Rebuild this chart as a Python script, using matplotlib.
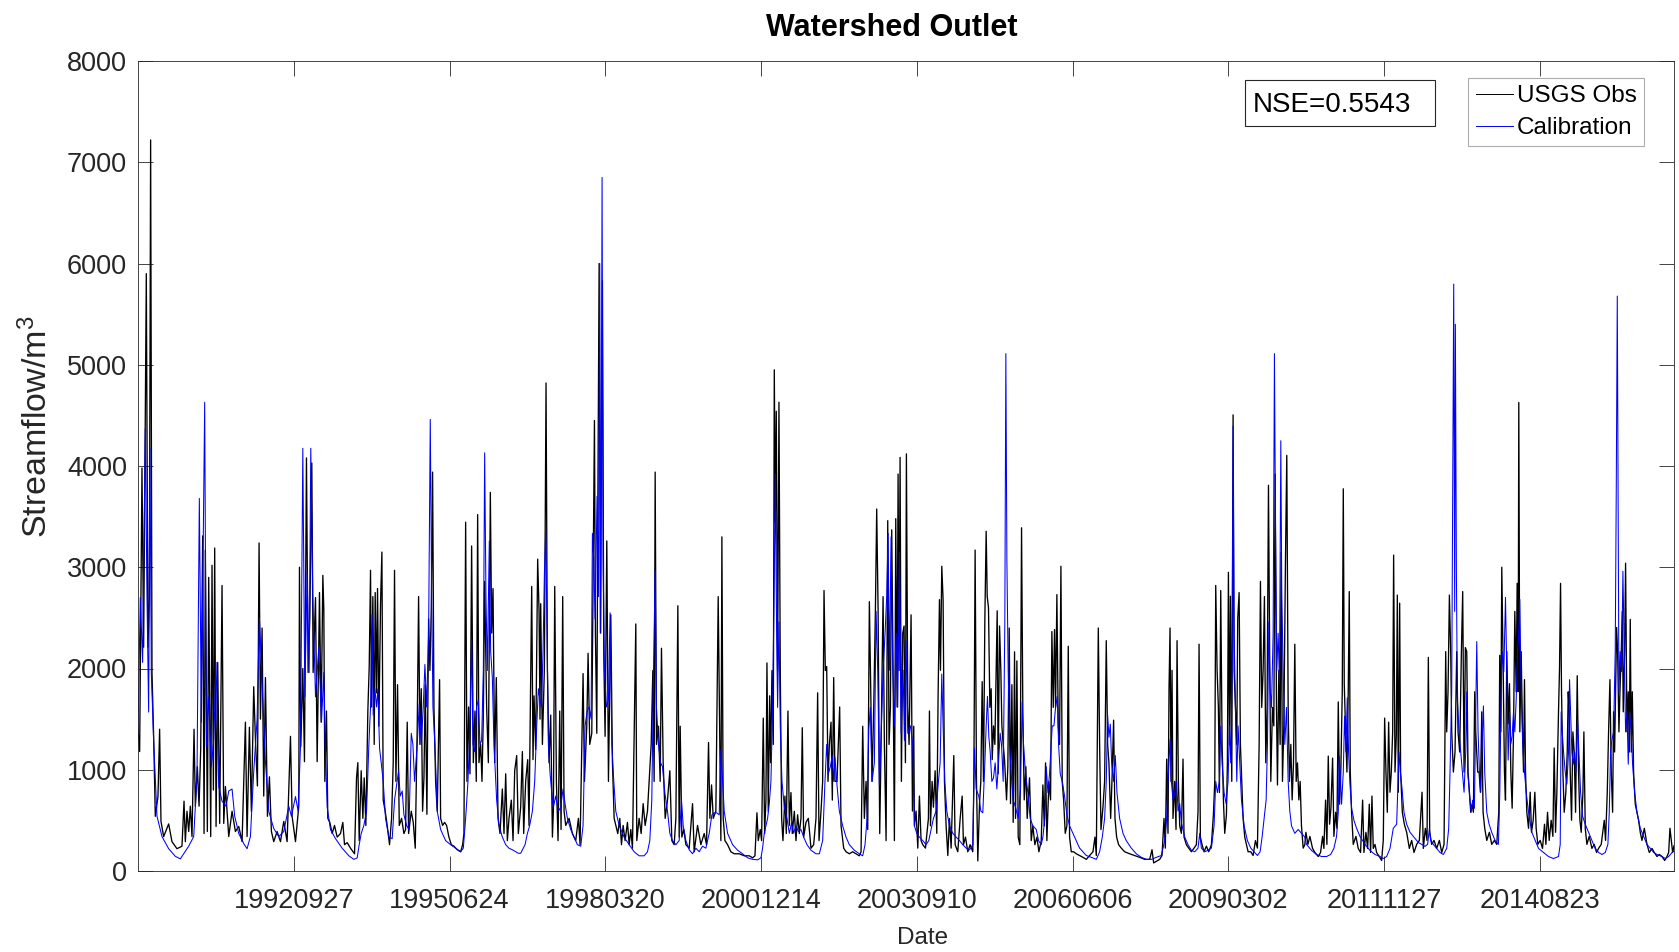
import numpy as np
import pandas as pd
import matplotlib
matplotlib.use("Agg")
import matplotlib.pyplot as plt
from matplotlib.patches import Rectangle

plt.rcParams['font.family'] = ['Liberation Sans', 'DejaVu Sans']
plt.rcParams['mathtext.fontset'] = 'custom'
plt.rcParams['mathtext.rm'] = 'Liberation Sans'
plt.rcParams['mathtext.it'] = 'Liberation Sans:italic'

# ---------------- data (decimal year, streamflow) ----------------
title = "Watershed Outlet"
x_label = "Date"
y_label = "Streamflow/m$^3$"
series_names = ["USGS Obs", "Calibration"]
nse_text = "NSE=0.5543"
date_ticks = ["19920927", "19950624", "19980320", "20001214", "20030910",
              "20060606", "20090302", "20111127", "20140823"]
y_ticks = [0, 1000, 2000, 3000, 4000, 5000, 6000, 7000, 8000]

usgs_obs = [
    (1990.000, 1400), (1990.029, 1180), (1990.070, 3980), (1990.099, 2210), (1990.146, 5900),
    (1990.175, 2210), (1990.199, 2700), (1990.222, 7220), (1990.246, 1960), (1990.275, 1330),
    (1990.304, 540), (1990.351, 735), (1990.380, 1400), (1990.404, 490), (1990.451, 340),
    (1990.539, 465), (1990.597, 290), (1990.685, 220), (1990.773, 245), (1990.809, 690),
    (1990.832, 290), (1990.861, 590), (1990.891, 390), (1990.920, 640), (1990.949, 340),
    (1990.985, 1400), (1991.008, 640), (1991.043, 1030), (1991.073, 640), (1991.102, 1200),
    (1991.137, 3310), (1991.161, 370), (1991.184, 3170), (1991.219, 390), (1991.243, 2900),
    (1991.278, 340), (1991.301, 3020), (1991.325, 800), (1991.348, 3190), (1991.372, 440),
    (1991.401, 2060), (1991.436, 470), (1991.477, 2820), (1991.507, 470), (1991.536, 835),
    (1991.595, 340), (1991.653, 590), (1991.712, 390), (1991.771, 440), (1991.829, 290),
    (1991.888, 1470), (1991.917, 340), (1991.958, 1420), (1991.993, 590), (1992.034, 1820),
    (1992.064, 1300), (1992.099, 840), (1992.128, 3240), (1992.152, 1500), (1992.181, 2400),
    (1992.210, 740), (1992.240, 1910), (1992.275, 540), (1992.310, 930), (1992.345, 390),
    (1992.386, 290), (1992.445, 390), (1992.504, 290), (1992.562, 490), (1992.621, 290),
    (1992.680, 1330), (1992.709, 540), (1992.768, 290), (1992.826, 640), (1992.838, 3000),
    (1992.861, 1230), (1992.897, 2000), (1992.926, 1080), (1992.961, 4080), (1992.990, 1960),
    (1993.020, 2500), (1993.055, 4030), (1993.078, 1960), (1993.120, 2700), (1993.149, 1080),
    (1993.190, 2750), (1993.219, 1470), (1993.249, 2920), (1993.266, 2585), (1993.284, 885),
    (1993.313, 1580), (1993.336, 520), (1993.372, 480), (1993.413, 370), (1993.454, 450),
    (1993.501, 335), (1993.559, 370), (1993.600, 480), (1993.630, 260), (1993.677, 280),
    (1993.735, 225), (1993.806, 170), (1993.841, 920), (1993.864, 1070), (1993.888, 300),
    (1993.923, 990), (1993.952, 520), (1993.976, 920), (1994.005, 450), (1994.040, 1580),
    (1994.064, 2020), (1994.087, 2970), (1994.105, 1620), (1994.128, 2710), (1994.152, 1250),
    (1994.169, 2750), (1994.193, 1760), (1994.210, 2790), (1994.234, 1430), (1994.263, 2640),
    (1994.287, 3150), (1994.310, 700), (1994.345, 590), (1994.380, 450), (1994.421, 260),
    (1994.457, 520), (1994.486, 1070), (1994.509, 2970), (1994.533, 885), (1994.562, 1840),
    (1994.592, 450), (1994.633, 520), (1994.674, 370), (1994.703, 410), (1994.732, 1470),
    (1994.756, 370), (1994.803, 590), (1994.838, 480), (1994.873, 225), (1994.908, 1430),
    (1994.932, 2710), (1994.955, 1250), (1994.979, 1800), (1995.002, 590), (1995.026, 920),
    (1995.049, 1840), (1995.078, 560), (1995.108, 2490), (1995.131, 1980), (1995.155, 2600),
    (1995.178, 3940), (1995.202, 1620), (1995.231, 885), (1995.260, 590), (1995.301, 1890),
    (1995.319, 520), (1995.354, 450), (1995.389, 480), (1995.424, 450), (1995.465, 335),
    (1995.507, 260), (1995.553, 245), (1995.612, 210), (1995.671, 190), (1995.706, 260),
    (1995.729, 370), (1995.759, 3445), (1995.782, 885), (1995.811, 1620), (1995.835, 960),
    (1995.864, 3210), (1995.894, 1070), (1995.923, 1580), (1995.946, 885), (1995.970, 3520),
    (1995.993, 1070), (1996.023, 1250), (1996.046, 885), (1996.070, 1540), (1996.093, 2860),
    (1996.128, 1620), (1996.158, 1070), (1996.193, 3740), (1996.216, 2350), (1996.240, 2790),
    (1996.269, 1070), (1996.298, 1910), (1996.328, 520), (1996.363, 370), (1996.404, 810),
    (1996.433, 370), (1996.463, 960), (1996.492, 300), (1996.521, 520), (1996.562, 700),
    (1996.592, 300), (1996.621, 990), (1996.656, 1140), (1996.685, 370), (1996.726, 630),
    (1996.756, 1180), (1996.779, 370), (1996.814, 885), (1996.850, 1100), (1996.873, 450),
    (1996.920, 2810), (1996.943, 1100), (1996.961, 1730), (1996.990, 1200), (1997.025, 3080),
    (1997.049, 2570), (1997.066, 1500), (1997.078, 2640), (1997.108, 1250), (1997.143, 2000),
    (1997.172, 4820), (1997.196, 1980), (1997.225, 1070), (1997.254, 1540), (1997.284, 335),
    (1997.301, 590), (1997.325, 2810), (1997.354, 885), (1997.383, 300), (1997.413, 1580),
    (1997.436, 410), (1997.465, 2710), (1997.489, 590), (1997.518, 450), (1997.577, 520),
    (1997.635, 370), (1997.694, 300), (1997.741, 520), (1997.770, 260), (1997.823, 1950),
    (1997.847, 885), (1997.888, 1430), (1997.911, 2150), (1997.940, 1250), (1997.976, 1360),
    (1998.005, 3300), (1998.023, 4450), (1998.040, 2350), (1998.064, 1360), (1998.081, 3445),
    (1998.105, 6000), (1998.128, 2350), (1998.163, 5830), (1998.187, 2130), (1998.210, 1330),
    (1998.240, 3260), (1998.269, 885), (1998.310, 2530), (1998.339, 1070), (1998.369, 520),
    (1998.398, 450), (1998.433, 370), (1998.468, 520), (1998.498, 260), (1998.527, 450),
    (1998.562, 300), (1998.603, 480), (1998.633, 260), (1998.662, 410), (1998.691, 225),
    (1998.750, 2440), (1998.767, 300), (1998.808, 520), (1998.844, 370), (1998.879, 665),
    (1998.914, 450), (1998.955, 590), (1998.984, 885), (1999.020, 1250), (1999.049, 1980),
    (1999.072, 885), (1999.090, 3940), (1999.113, 1250), (1999.149, 1430), (1999.178, 885),
    (1999.201, 2200), (1999.231, 1070), (1999.266, 520), (1999.307, 700), (1999.348, 990),
    (1999.383, 300), (1999.424, 260), (1999.454, 520), (1999.489, 2620), (1999.512, 335),
    (1999.530, 1430), (1999.559, 335), (1999.594, 410), (1999.630, 260), (1999.688, 225),
    (1999.747, 665), (1999.776, 190), (1999.835, 450), (1999.893, 260), (1999.952, 370),
    (1999.993, 260), (2000.028, 1270), (2000.052, 520), (2000.081, 850), (2000.111, 520),
    (2000.157, 590), (2000.198, 2710), (2000.245, 300), (2000.263, 3300), (2000.286, 520),
    (2000.316, 300), (2000.363, 260), (2000.421, 190), (2000.480, 170), (2000.568, 170),
    (2000.656, 150), (2000.744, 150), (2000.803, 130), (2000.844, 150), (2000.879, 575),
    (2000.902, 300), (2000.937, 410), (2000.961, 300), (2000.990, 1510), (2001.014, 370),
    (2001.037, 700), (2001.055, 2055), (2001.078, 590), (2001.102, 1730), (2001.119, 1070),
    (2001.143, 1980), (2001.166, 1250), (2001.184, 4950), (2001.201, 3445), (2001.219, 4540),
    (2001.242, 1980), (2001.266, 4630), (2001.289, 1980), (2001.313, 520), (2001.336, 300),
    (2001.371, 740), (2001.395, 370), (2001.424, 1580), (2001.448, 450), (2001.477, 775),
    (2001.500, 370), (2001.536, 590), (2001.565, 300), (2001.594, 555), (2001.624, 370),
    (2001.653, 520), (2001.676, 1415), (2001.700, 335), (2001.741, 480), (2001.782, 520),
    (2001.829, 225), (2001.876, 260), (2001.917, 520), (2001.946, 1760), (2001.970, 300),
    (2002.005, 590), (2002.034, 885), (2002.058, 2770), (2002.081, 1980), (2002.105, 2020),
    (2002.128, 885), (2002.152, 1250), (2002.181, 1470), (2002.204, 700), (2002.228, 1910),
    (2002.251, 885), (2002.286, 885), (2002.333, 1620), (2002.357, 450), (2002.404, 225),
    (2002.445, 190), (2002.503, 170), (2002.562, 190), (2002.621, 170), (2002.679, 150),
    (2002.709, 190), (2002.738, 1430), (2002.767, 520), (2002.797, 885), (2002.826, 410),
    (2002.855, 2660), (2002.879, 1800), (2002.902, 885), (2002.932, 1620), (2002.961, 2570),
    (2002.984, 3575), (2003.008, 2600), (2003.037, 370), (2003.061, 1250), (2003.096, 2710),
    (2003.119, 1250), (2003.149, 300), (2003.178, 3460), (2003.201, 1250), (2003.225, 1620),
    (2003.248, 3370), (2003.272, 1980), (2003.295, 300), (2003.319, 3480), (2003.342, 1620),
    (2003.360, 3920), (2003.377, 1980), (2003.395, 4085), (2003.418, 885), (2003.442, 2350),
    (2003.465, 2420), (2003.489, 1070), (2003.506, 4120), (2003.530, 1620), (2003.553, 1250),
    (2003.588, 2530), (2003.612, 592), (2003.635, 1430), (2003.647, 446), (2003.676, 592),
    (2003.706, 226), (2003.735, 740), (2003.764, 300), (2003.794, 260), (2003.841, 226),
    (2003.893, 519), (2003.911, 1580), (2003.929, 446), (2003.958, 885), (2003.981, 630),
    (2004.011, 990), (2004.040, 372), (2004.063, 1730), (2004.087, 2680), (2004.105, 1982),
    (2004.128, 3010), (2004.151, 2680), (2004.175, 885), (2004.204, 446), (2004.234, 153),
    (2004.263, 519), (2004.292, 226), (2004.339, 1140), (2004.363, 260), (2004.409, 190),
    (2004.451, 519), (2004.486, 740), (2004.509, 260), (2004.544, 335), (2004.585, 190),
    (2004.626, 260), (2004.673, 190), (2004.691, 850), (2004.714, 3170), (2004.738, 885),
    (2004.761, 100), (2004.791, 665), (2004.814, 885), (2004.838, 1870), (2004.861, 885),
    (2004.885, 2490), (2004.908, 3355), (2004.926, 2714), (2004.949, 2600), (2004.973, 1616),
    (2004.996, 1800), (2005.014, 1100), (2005.037, 1433), (2005.061, 1250), (2005.084, 1982),
    (2005.102, 2570), (2005.119, 960), (2005.143, 2420), (2005.166, 1982), (2005.184, 1433),
    (2005.207, 1250), (2005.231, 1100), (2005.266, 702), (2005.289, 1030), (2005.313, 2400),
    (2005.336, 665), (2005.360, 1840), (2005.383, 480), (2005.407, 2165), (2005.424, 519),
    (2005.448, 2075), (2005.471, 335), (2005.500, 260), (2005.530, 3390), (2005.553, 1540),
    (2005.577, 702), (2005.606, 1030), (2005.629, 519), (2005.670, 920), (2005.700, 300),
    (2005.729, 446), (2005.764, 260), (2005.800, 335), (2005.835, 190), (2005.876, 300),
    (2005.905, 850), (2005.929, 446), (2005.952, 1068), (2005.975, 300), (2006.011, 885),
    (2006.040, 702), (2006.063, 2365), (2006.087, 1616), (2006.110, 2385), (2006.128, 1616),
    (2006.151, 2730), (2006.175, 1433), (2006.198, 1250), (2006.222, 3010), (2006.245, 885),
    (2006.269, 702), (2006.298, 372), (2006.327, 446), (2006.351, 2220), (2006.374, 335),
    (2006.404, 190), (2006.445, 190), (2006.492, 170), (2006.550, 153), (2006.609, 135),
    (2006.668, 115), (2006.726, 153), (2006.785, 190), (2006.820, 335), (2006.844, 153),
    (2006.879, 2400), (2006.902, 1250), (2006.926, 410), (2006.961, 630), (2006.990, 885),
    (2007.019, 2275), (2007.043, 1250), (2007.066, 1068), (2007.096, 519), (2007.119, 885),
    (2007.148, 1490), (2007.172, 519), (2007.201, 335), (2007.236, 260), (2007.283, 226),
    (2007.342, 190), (2007.430, 170), (2007.518, 153), (2007.606, 135), (2007.694, 115),
    (2007.782, 115), (2007.823, 210), (2007.852, 80), (2007.899, 95), (2007.958, 115),
    (2007.999, 153), (2008.034, 519), (2008.057, 226), (2008.081, 1105), (2008.104, 372),
    (2008.122, 1800), (2008.140, 2400), (2008.157, 885), (2008.175, 1982), (2008.192, 519),
    (2008.222, 885), (2008.245, 410), (2008.263, 2275), (2008.286, 885), (2008.310, 446),
    (2008.339, 372), (2008.368, 1105), (2008.386, 335), (2008.427, 260), (2008.468, 226),
    (2008.515, 190), (2008.562, 226), (2008.603, 260), (2008.632, 592), (2008.650, 2240),
    (2008.673, 335), (2008.703, 260), (2008.738, 190), (2008.779, 245), (2008.820, 190),
    (2008.867, 260), (2008.902, 555), (2008.926, 885), (2008.943, 2820), (2008.967, 1982),
    (2008.990, 1616), (2009.008, 775), (2009.031, 2770), (2009.055, 1250), (2009.078, 702),
    (2009.101, 372), (2009.131, 555), (2009.148, 1068), (2009.166, 2950), (2009.184, 1250),
    (2009.201, 2714), (2009.225, 885), (2009.248, 4505), (2009.266, 1982), (2009.289, 1616),
    (2009.313, 1250), (2009.330, 2495), (2009.354, 2750), (2009.377, 1250), (2009.401, 885),
    (2009.424, 519), (2009.453, 335), (2009.483, 260), (2009.512, 190), (2009.559, 190),
    (2009.600, 153), (2009.641, 300), (2009.676, 226), (2009.706, 1250), (2009.729, 2860),
    (2009.752, 1616), (2009.776, 1982), (2009.799, 2710), (2009.823, 1068), (2009.846, 1616),
    (2009.870, 3810), (2009.893, 1982), (2009.911, 885), (2009.940, 1616), (2009.964, 1433),
    (2009.987, 3920), (2010.011, 1616), (2010.028, 850), (2010.052, 1982), (2010.075, 1250),
    (2010.093, 3150), (2010.116, 885), (2010.140, 1433), (2010.169, 3079), (2010.192, 4105),
    (2010.216, 1616), (2010.239, 885), (2010.263, 1250), (2010.286, 702), (2010.310, 1068),
    (2010.333, 2240), (2010.357, 885), (2010.380, 1068), (2010.404, 702), (2010.427, 885),
    (2010.450, 446), (2010.480, 226), (2010.509, 260), (2010.528, 382), (2010.563, 263),
    (2010.598, 342), (2010.645, 223), (2010.686, 183), (2010.745, 143), (2010.786, 183),
    (2010.821, 342), (2010.844, 223), (2010.874, 700), (2010.897, 263), (2010.921, 1135),
    (2010.944, 462), (2010.968, 620), (2010.997, 1115), (2011.020, 342), (2011.050, 580),
    (2011.073, 422), (2011.097, 1670), (2011.120, 660), (2011.143, 1016), (2011.167, 1770),
    (2011.185, 3775), (2011.202, 1850), (2011.226, 1374), (2011.249, 977), (2011.272, 1770),
    (2011.290, 2760), (2011.308, 977), (2011.331, 580), (2011.360, 263), (2011.407, 342),
    (2011.448, 223), (2011.489, 183), (2011.525, 700), (2011.548, 183), (2011.583, 382),
    (2011.613, 223), (2011.642, 660), (2011.665, 183), (2011.689, 740), (2011.712, 223),
    (2011.742, 263), (2011.771, 183), (2011.818, 143), (2011.859, 104), (2011.888, 302),
    (2011.912, 1510), (2011.935, 977), (2011.959, 580), (2011.982, 1470), (2012.006, 778),
    (2012.029, 977), (2012.053, 1374), (2012.070, 3120), (2012.094, 977), (2012.117, 1334),
    (2012.135, 2725), (2012.152, 778), (2012.176, 2645), (2012.193, 977), (2012.223, 580),
    (2012.258, 462), (2012.299, 382), (2012.346, 223), (2012.387, 302), (2012.428, 183),
    (2012.475, 263), (2012.522, 302), (2012.569, 778), (2012.592, 223), (2012.627, 422),
    (2012.657, 302), (2012.680, 2110), (2012.704, 382), (2012.739, 263), (2012.780, 302),
    (2012.827, 223), (2012.874, 302), (2012.915, 183), (2012.956, 263), (2012.985, 2167),
    (2013.003, 1374), (2013.026, 1770), (2013.050, 2725), (2013.073, 2167), (2013.091, 1374),
    (2013.120, 977), (2013.149, 1175), (2013.179, 2167), (2013.202, 1374), (2013.231, 1175),
    (2013.261, 2167), (2013.284, 2760), (2013.308, 977), (2013.331, 2207), (2013.355, 2167),
    (2013.378, 977), (2013.402, 778), (2013.425, 580), (2013.448, 660), (2013.472, 580),
    (2013.495, 1770), (2013.513, 1374), (2013.548, 977), (2013.572, 977), (2013.595, 778),
    (2013.619, 1572), (2013.642, 580), (2013.671, 422), (2013.707, 302), (2013.753, 382),
    (2013.794, 263), (2013.841, 302), (2013.882, 263), (2013.918, 580), (2013.935, 2130),
    (2013.954, 1374), (2013.971, 3000), (2013.995, 2009), (2014.018, 977), (2014.036, 700),
    (2014.059, 2167), (2014.083, 1453), (2014.106, 1850), (2014.130, 977), (2014.153, 620),
    (2014.177, 1374), (2014.200, 2564), (2014.224, 1770), (2014.241, 2841), (2014.259, 1770),
    (2014.270, 4627), (2014.288, 1374), (2014.312, 2167), (2014.335, 1374), (2014.353, 977),
    (2014.370, 1890), (2014.388, 977), (2014.411, 580), (2014.441, 422), (2014.470, 778),
    (2014.493, 382), (2014.523, 501), (2014.552, 778), (2014.575, 422), (2014.605, 263),
    (2014.646, 302), (2014.687, 223), (2014.722, 462), (2014.746, 263), (2014.775, 580),
    (2014.804, 302), (2014.839, 501), (2014.869, 342), (2014.892, 1215), (2014.916, 382),
    (2014.939, 778), (2014.968, 1572), (2014.986, 2009), (2015.004, 2841), (2015.021, 1770),
    (2015.045, 977), (2015.068, 580), (2015.097, 778), (2015.121, 1175), (2015.139, 1770),
    (2015.156, 1572), (2015.174, 977), (2015.197, 501), (2015.221, 1374), (2015.244, 1175),
    (2015.268, 580), (2015.297, 1929), (2015.320, 977), (2015.344, 501), (2015.367, 382),
    (2015.397, 778), (2015.414, 1374), (2015.438, 422), (2015.467, 263), (2015.508, 342),
    (2015.555, 223), (2015.596, 263), (2015.637, 183), (2015.672, 223), (2015.719, 263),
    (2015.754, 422), (2015.772, 501), (2015.795, 302), (2015.825, 778), (2015.848, 1374),
    (2015.872, 1890), (2015.895, 977), (2015.919, 580), (2015.936, 1572), (2015.954, 1175),
    (2015.971, 1770), (2015.989, 2405), (2016.007, 2167), (2016.030, 1374), (2016.048, 1770),
    (2016.071, 2167), (2016.089, 2564), (2016.106, 1572), (2016.130, 2167), (2016.147, 3040),
    (2016.171, 1374), (2016.194, 1770), (2016.212, 1175), (2016.229, 2485), (2016.247, 1175),
    (2016.265, 1770), (2016.288, 977), (2016.317, 660), (2016.347, 580), (2016.376, 501),
    (2016.405, 382), (2016.435, 302), (2016.476, 422), (2016.523, 263), (2016.564, 183),
    (2016.611, 223), (2016.652, 183), (2016.699, 143), (2016.740, 163), (2016.787, 143),
    (2016.834, 104), (2016.875, 143), (2016.904, 183), (2016.927, 422), (2016.951, 302),
    (2016.974, 183), (2016.998, 250),
]

calibration = [
    (1990.000, 1370), (1990.040, 2700), (1990.081, 2060), (1990.128, 4370), (1990.158, 2700),
    (1990.187, 1570), (1990.210, 4175), (1990.234, 1960), (1990.275, 1280), (1990.334, 540),
    (1990.422, 340), (1990.539, 220), (1990.656, 145), (1990.744, 120), (1990.803, 170),
    (1990.891, 245), (1990.979, 340), (1991.037, 930), (1991.078, 3680), (1991.114, 1470),
    (1991.172, 4630), (1991.202, 1230), (1991.243, 1720), (1991.290, 1030), (1991.331, 1300),
    (1991.372, 2060), (1991.419, 835), (1991.477, 690), (1991.548, 640), (1991.595, 790),
    (1991.653, 810), (1991.700, 540), (1991.771, 370), (1991.859, 270), (1991.917, 220),
    (1991.976, 340), (1992.034, 980), (1992.093, 1500), (1992.134, 2500), (1992.181, 1870),
    (1992.240, 1080), (1992.298, 590), (1992.386, 420), (1992.474, 340), (1992.562, 390),
    (1992.650, 640), (1992.697, 540), (1992.768, 735), (1992.815, 590), (1992.856, 1230),
    (1992.897, 4175), (1992.932, 1720), (1992.973, 2950), (1993.008, 1960), (1993.037, 4175),
    (1993.073, 2700), (1993.120, 1720), (1993.178, 2210), (1993.225, 1470), (1993.266, 1960),
    (1993.290, 1250), (1993.325, 630), (1993.383, 410), (1993.471, 320), (1993.589, 225),
    (1993.706, 150), (1993.794, 115), (1993.853, 130), (1993.888, 260), (1993.923, 370),
    (1993.970, 450), (1994.017, 590), (1994.058, 1250), (1994.087, 1620), (1994.116, 2530),
    (1994.134, 1540), (1994.163, 1800), (1994.193, 1620), (1994.216, 1800), (1994.246, 1210),
    (1994.275, 1070), (1994.310, 885), (1994.351, 520), (1994.410, 335), (1994.468, 320),
    (1994.509, 700), (1994.545, 850), (1994.580, 990), (1994.609, 740), (1994.644, 790),
    (1994.674, 555), (1994.721, 450), (1994.762, 410), (1994.803, 1360), (1994.832, 1250),
    (1994.861, 885), (1994.908, 1250), (1994.943, 1650), (1994.979, 1250), (1995.014, 1620),
    (1995.043, 2040), (1995.073, 1620), (1995.108, 2350), (1995.137, 4460), (1995.160, 2790),
    (1995.184, 1620), (1995.219, 1250), (1995.260, 590), (1995.319, 410), (1995.407, 300),
    (1995.495, 260), (1995.583, 225), (1995.671, 190), (1995.718, 225), (1995.759, 520),
    (1995.800, 885), (1995.835, 1430), (1995.864, 2275), (1995.888, 1250), (1995.917, 1180),
    (1995.952, 1620), (1995.982, 1690), (1996.011, 1250), (1996.040, 1290), (1996.070, 1980),
    (1996.093, 4130), (1996.116, 2710), (1996.140, 1980), (1996.175, 3260), (1996.199, 2165),
    (1996.228, 1910), (1996.257, 1250), (1996.304, 700), (1996.345, 450), (1996.404, 335),
    (1996.463, 260), (1996.521, 225), (1996.580, 210), (1996.638, 190), (1996.685, 175),
    (1996.726, 175), (1996.803, 260), (1996.844, 370), (1996.885, 450), (1996.932, 590),
    (1996.973, 885), (1997.008, 1430), (1997.037, 1800), (1997.066, 1690), (1997.090, 1620),
    (1997.119, 2165), (1997.143, 2930), (1997.166, 3350), (1997.190, 2350), (1997.213, 1250),
    (1997.243, 960), (1997.272, 775), (1997.301, 630), (1997.342, 740), (1997.389, 590),
    (1997.430, 630), (1997.471, 810), (1997.506, 665), (1997.547, 520), (1997.606, 410),
    (1997.665, 335), (1997.723, 260), (1997.782, 245), (1997.823, 450), (1997.858, 1430),
    (1997.894, 1580), (1997.929, 1620), (1997.964, 1500), (1997.987, 3335), (1998.011, 3080),
    (1998.034, 2490), (1998.069, 3700), (1998.093, 2710), (1998.116, 6000), (1998.134, 2350),
    (1998.157, 6850), (1998.175, 3080), (1998.199, 1980), (1998.234, 1620), (1998.269, 1690),
    (1998.298, 2550), (1998.328, 1250), (1998.363, 885), (1998.398, 590), (1998.457, 450),
    (1998.544, 335), (1998.633, 260), (1998.721, 190), (1998.808, 150), (1998.896, 150),
    (1998.955, 190), (1998.996, 300), (1999.031, 700), (1999.061, 1980), (1999.090, 2970),
    (1999.113, 1620), (1999.149, 1250), (1999.184, 1070), (1999.219, 1030), (1999.260, 775),
    (1999.307, 590), (1999.348, 372), (1999.395, 300), (1999.454, 260), (1999.512, 300),
    (1999.553, 700), (1999.583, 446), (1999.630, 300), (1999.688, 210), (1999.747, 170),
    (1999.806, 225), (1999.864, 190), (1999.923, 245), (1999.981, 225), (2000.040, 372),
    (2000.087, 555), (2000.128, 575), (2000.169, 575), (2000.216, 555), (2000.245, 1200),
    (2000.269, 960), (2000.304, 590), (2000.363, 372), (2000.451, 260), (2000.539, 205),
    (2000.627, 170), (2000.715, 130), (2000.803, 115), (2000.890, 110), (2000.949, 130),
    (2000.978, 225), (2001.008, 372), (2001.037, 446), (2001.066, 519), (2001.096, 665),
    (2001.125, 885), (2001.154, 1616), (2001.184, 2900), (2001.201, 3920), (2001.225, 2350),
    (2001.242, 1616), (2001.266, 2460), (2001.289, 1433), (2001.319, 885), (2001.360, 630),
    (2001.407, 519), (2001.448, 372), (2001.489, 480), (2001.524, 372), (2001.565, 446),
    (2001.606, 390), (2001.653, 410), (2001.700, 335), (2001.759, 260), (2001.829, 205),
    (2001.917, 170), (2001.976, 170), (2002.034, 300), (2002.075, 885), (2002.105, 1250),
    (2002.134, 960), (2002.169, 1030), (2002.204, 1140), (2002.228, 885), (2002.251, 1120),
    (2002.286, 850), (2002.327, 592), (2002.386, 446), (2002.445, 335), (2002.503, 260),
    (2002.591, 205), (2002.679, 170), (2002.738, 150), (2002.779, 260), (2002.814, 519),
    (2002.844, 1400), (2002.873, 1616), (2002.902, 885), (2002.943, 1068), (2002.973, 2565),
    (2003.002, 1980), (2003.031, 850), (2003.061, 1325), (2003.096, 1980), (2003.131, 2348),
    (2003.160, 2714), (2003.184, 3335), (2003.207, 1982), (2003.237, 3300), (2003.266, 1982),
    (2003.295, 1433), (2003.325, 2348), (2003.354, 1616), (2003.383, 3150), (2003.413, 1360),
    (2003.448, 1982), (2003.471, 1290), (2003.500, 2275), (2003.530, 1360), (2003.577, 1433),
    (2003.618, 1250), (2003.647, 446), (2003.688, 372), (2003.735, 335), (2003.794, 300),
    (2003.852, 260), (2003.899, 300), (2003.940, 410), (2003.981, 519), (2004.028, 592),
    (2004.069, 885), (2004.099, 1068), (2004.128, 1945), (2004.151, 1433), (2004.181, 885),
    (2004.216, 592), (2004.263, 446), (2004.322, 372), (2004.380, 335), (2004.439, 300),
    (2004.497, 260), (2004.556, 226), (2004.615, 208), (2004.673, 260), (2004.703, 1215),
    (2004.732, 810), (2004.779, 740), (2004.814, 592), (2004.849, 575), (2004.885, 1068),
    (2004.908, 1433), (2004.931, 1725), (2004.955, 1325), (2004.978, 1180), (2005.008, 885),
    (2005.037, 920), (2005.066, 1068), (2005.096, 810), (2005.125, 1068), (2005.154, 1360),
    (2005.178, 1250), (2005.207, 885), (2005.236, 2460), (2005.254, 5110), (2005.272, 3080),
    (2005.295, 1982), (2005.319, 1250), (2005.348, 960), (2005.383, 702), (2005.424, 630),
    (2005.471, 519), (2005.512, 810), (2005.541, 1670), (2005.565, 1250), (2005.600, 960),
    (2005.641, 775), (2005.682, 519), (2005.729, 446), (2005.788, 410), (2005.829, 300),
    (2005.876, 260), (2005.905, 335), (2005.940, 519), (2005.964, 1030), (2005.993, 775),
    (2006.022, 960), (2006.069, 1433), (2006.099, 1433), (2006.128, 1616), (2006.157, 1725),
    (2006.181, 1250), (2006.210, 960), (2006.245, 885), (2006.286, 740), (2006.327, 555),
    (2006.374, 446), (2006.433, 372), (2006.492, 300), (2006.550, 226), (2006.609, 190),
    (2006.668, 153), (2006.756, 135), (2006.844, 115), (2006.902, 190), (2006.949, 335),
    (2006.990, 519), (2007.019, 885), (2007.043, 1540), (2007.066, 1320), (2007.090, 1450),
    (2007.113, 1068), (2007.148, 885), (2007.178, 1140), (2007.207, 775), (2007.254, 519),
    (2007.313, 372), (2007.371, 300), (2007.459, 226), (2007.547, 170), (2007.635, 135),
    (2007.723, 115), (2007.811, 115), (2007.899, 135), (2007.987, 153), (2008.046, 300),
    (2008.081, 519), (2008.104, 885), (2008.140, 1300), (2008.163, 885), (2008.192, 702),
    (2008.222, 775), (2008.257, 885), (2008.280, 592), (2008.310, 665), (2008.339, 480),
    (2008.398, 335), (2008.456, 260), (2008.515, 205), (2008.574, 190), (2008.632, 226),
    (2008.662, 372), (2008.691, 226), (2008.750, 190), (2008.808, 205), (2008.867, 226),
    (2008.914, 446), (2008.943, 885), (2008.972, 775), (2009.008, 885), (2009.031, 1430),
    (2009.055, 1068), (2009.090, 775), (2009.125, 665), (2009.160, 885), (2009.184, 1433),
    (2009.207, 1068), (2009.230, 1982), (2009.248, 4395), (2009.266, 2348), (2009.289, 1616),
    (2009.313, 885), (2009.336, 1433), (2009.365, 1068), (2009.395, 702), (2009.442, 446),
    (2009.500, 300), (2009.559, 226), (2009.618, 190), (2009.676, 153), (2009.723, 190),
    (2009.758, 335), (2009.794, 519), (2009.829, 702), (2009.852, 1250), (2009.876, 2460),
    (2009.899, 1800), (2009.923, 1616), (2009.952, 2348), (2009.975, 5110), (2009.993, 3445),
    (2010.016, 1982), (2010.040, 2348), (2010.063, 1870), (2010.087, 4250), (2010.104, 2714),
    (2010.128, 1982), (2010.157, 1250), (2010.187, 1616), (2010.216, 885), (2010.245, 592),
    (2010.275, 446), (2010.333, 372), (2010.392, 410), (2010.450, 372), (2010.509, 335),
    (2010.539, 263), (2010.627, 203), (2010.715, 163), (2010.803, 143), (2010.891, 143),
    (2010.962, 163), (2011.020, 223), (2011.067, 342), (2011.097, 580), (2011.114, 1135),
    (2011.132, 977), (2011.155, 660), (2011.185, 977), (2011.208, 1530), (2011.231, 1175),
    (2011.255, 1710), (2011.278, 1175), (2011.302, 858), (2011.331, 620), (2011.372, 501),
    (2011.419, 422), (2011.478, 342), (2011.566, 263), (2011.654, 203), (2011.742, 163),
    (2011.830, 143), (2011.888, 123), (2011.947, 143), (2012.006, 223), (2012.064, 422),
    (2012.123, 462), (2012.164, 1175), (2012.188, 977), (2012.217, 818), (2012.252, 580),
    (2012.299, 462), (2012.358, 382), (2012.416, 342), (2012.446, 322), (2012.504, 282),
    (2012.563, 263), (2012.621, 243), (2012.668, 263), (2012.698, 422), (2012.721, 302),
    (2012.768, 263), (2012.827, 223), (2012.885, 183), (2012.944, 163), (2013.003, 223),
    (2013.038, 422), (2013.061, 977), (2013.091, 1770), (2013.108, 3750), (2013.126, 5797),
    (2013.143, 2564), (2013.155, 5400), (2013.173, 2960), (2013.190, 1691), (2013.220, 1374),
    (2013.249, 1175), (2013.278, 977), (2013.308, 778), (2013.337, 1175), (2013.355, 1770),
    (2013.372, 977), (2013.402, 778), (2013.431, 580), (2013.460, 700), (2013.490, 620),
    (2013.513, 1572), (2013.531, 2266), (2013.554, 1374), (2013.578, 977), (2013.601, 778),
    (2013.624, 1255), (2013.648, 1631), (2013.671, 977), (2013.707, 580), (2013.748, 462),
    (2013.794, 382), (2013.853, 302), (2013.912, 263), (2013.936, 778), (2013.960, 1770),
    (2013.983, 2167), (2014.007, 1969), (2014.036, 2703), (2014.059, 1969), (2014.083, 1095),
    (2014.106, 1572), (2014.130, 1255), (2014.153, 1334), (2014.177, 1572), (2014.200, 1374),
    (2014.224, 1691), (2014.247, 2167), (2014.270, 2365), (2014.288, 2683), (2014.306, 1969),
    (2014.323, 1572), (2014.347, 1175), (2014.370, 977), (2014.400, 778), (2014.441, 580),
    (2014.499, 382), (2014.558, 302), (2014.617, 223), (2014.704, 183), (2014.792, 143),
    (2014.880, 123), (2014.968, 143), (2014.998, 263), (2015.015, 1572), (2015.033, 1374),
    (2015.057, 1175), (2015.086, 977), (2015.115, 858), (2015.144, 1175), (2015.162, 1890),
    (2015.180, 1572), (2015.203, 1175), (2015.226, 1055), (2015.250, 1175), (2015.273, 977),
    (2015.303, 1493), (2015.326, 1175), (2015.356, 778), (2015.391, 540), (2015.438, 462),
    (2015.496, 382), (2015.555, 302), (2015.614, 223), (2015.672, 183), (2015.731, 163),
    (2015.790, 183), (2015.836, 263), (2015.860, 580), (2015.883, 1175), (2015.907, 1294),
    (2015.936, 1374), (2015.965, 2167), (2015.983, 3754), (2016.001, 5678), (2016.012, 4150),
    (2016.030, 1770), (2016.053, 2167), (2016.077, 1969), (2016.100, 2960), (2016.124, 2167),
    (2016.147, 1374), (2016.171, 1572), (2016.194, 1055), (2016.218, 1572), (2016.247, 1374),
    (2016.270, 1055), (2016.306, 778), (2016.347, 580), (2016.405, 422), (2016.464, 342),
    (2016.523, 263), (2016.581, 223), (2016.640, 183), (2016.699, 163), (2016.787, 143),
    (2016.845, 123), (2016.904, 143), (2016.963, 183), (2016.998, 200),
]

# ---------------- figure ----------------
W, H = 1679, 952
fig = plt.figure(figsize=(W / 100, H / 100), dpi=100)
ax = fig.add_axes([138 / W, 1 - 871 / H, (1674 - 138) / W, (871 - 61) / H])

def split(points):
    arr = np.array(sorted(points), dtype=float)
    return arr[:, 0], arr[:, 1]

ot, oq = split(usgs_obs)
ct, cq = split(calibration)
ax.plot(ot, oq, color='black', lw=0.95, label=series_names[0])
ax.plot(ct, cq, color=(0, 0, 1), lw=0.75, label=series_names[1])

def dec_year(s):
    d = pd.Timestamp(s)
    return 1990 + (d - pd.Timestamp('1990-01-01')).days / 365.25

ax.set_xlim(1990.0, dec_year('20161231'))
ax.set_ylim(0, 8000)
ax.set_xticks([dec_year(s) for s in date_ticks])
ax.set_xticklabels(date_ticks)
ax.set_yticks(y_ticks)
ax.set_yticklabels([str(v) for v in y_ticks])

axcol = '#262626'
for sp in ax.spines.values():
    sp.set_color(axcol)
    sp.set_linewidth(0.6)
ax.tick_params(axis='both', which='both', direction='in', length=11, width=0.6,
               color=axcol, labelcolor=axcol, labelsize=19.5, top=True, right=True)
ax.tick_params(axis='x', pad=12)
ax.tick_params(axis='y', pad=8)

# NSE box
ax.add_patch(Rectangle((0.7207, 0.9198), 0.8444 - 0.7207, 0.9765 - 0.9198,
                       transform=ax.transAxes, fill=True, facecolor='white',
                       edgecolor='#262626', lw=0.8, zorder=5))
ax.text(0.7259, 0.9455, nse_text, transform=ax.transAxes, ha='left', va='center',
        fontsize=20, color='black', zorder=6)

leg = ax.legend(loc='upper right', bbox_to_anchor=(0.9805, 0.979), borderaxespad=0,
                fontsize=17.5, frameon=True, fancybox=False, handlelength=1.55,
                handletextpad=0.15, borderpad=0.3, labelspacing=0.4)
leg.get_frame().set_edgecolor('#999999')
leg.get_frame().set_linewidth(0.8)
for l in leg.get_lines():
    l.set_linewidth(0.7)

fig.text(892 / W, 1 - 27.5 / H, title, ha='center', va='center', fontsize=22,
         fontweight='bold', color='black')
fig.text(923 / W, 1 - 938 / H, x_label, ha='center', va='center', fontsize=17.5,
         color=axcol)
fig.text(37 / W, 1 - 427 / H, y_label, ha='center', va='center', fontsize=24.5,
         rotation=90, color=axcol)

fig.savefig('out.png', dpi=100)
